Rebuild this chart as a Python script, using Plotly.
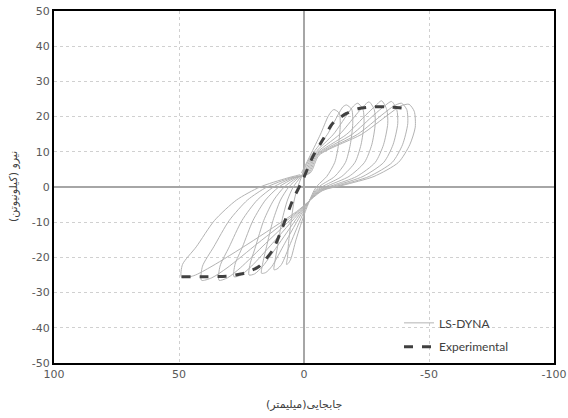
import plotly.graph_objects as go

# ---- data ----
# LS-DYNA hysteresis cycles (displacement mm, force kN)
c1_x = [1.0, -2.5, -6.6, -9.6, -11, -12, -14.1, -14.5, -13.8, -12.3, -9.1, -5.5, -4.0,
        -0.5, 3.2, 5.3, 6.3, 7, 6.6, 6.2, 5.1, 3.9, 2.5, 1.2]
c1_y = [4, 9, 15, 20, 21.5, 22, 21, 17.5, 12, 7, 3, 0.5, -1,
        -7, -15, -20.5, -21.7, -22, -20, -16, -9.5, -3.7, 0, 2.5]
c2_x = [0.5, -3.0, -9.4, -13.6, -15.6, -17, -19.1, -19.5, -18.5, -16.6, -12.3, -6.8, -4.5,
        0.0, 5.4, 9, 10.8, 12, 11.6, 10.6, 8.8, 6.6, 4.3, 1.7]
c2_y = [4, 9, 15, 20.5, 22.8, 23.3, 22, 18, 12, 7, 3, 0.5, -1,
        -7, -16, -22, -23.3, -23.5, -21, -17, -9.5, -3.7, 0, 2.5]
c3_x = [0.0, -3.5, -11.8, -17.2, -19.8, -21.5, -23.6, -24, -22.8, -20.4, -15.1, -8.4, -5.0,
        0.5, 7.7, 12.8, 15.3, 17, 16.6, 15, 12.4, 9.4, 6.1, 2.4]
c3_y = [4, 9, 15, 20.5, 23, 23.8, 22, 18, 12, 7, 3, 0.5, -1,
        -7, -16, -22.5, -24.3, -24.5, -22, -17, -9.5, -3.7, 0, 2.5]
c4_x = [-0.5, -4.0, -14.3, -20.8, -23.9, -26, -28.1, -28.5, -27.1, -24.2, -18, -10, -5.5,
        1.0, 9.9, 16.5, 19.8, 22, 21.6, 19.4, 16.1, 12.1, 7.9, 3.1]
c4_y = [4, 9, 15, 20.5, 23, 24.2, 22, 18, 12, 7, 3, 0.5, -1,
        -7, -16, -22.5, -24.7, -25, -22, -17, -9.5, -3.7, 0, 2.5]
c5_x = [-1.0, -4.5, -17.1, -24.8, -28.5, -31, -33.1, -33.5, -31.8, -28.5, -21.1, -11.7, -6.0,
        1.5, 12.6, 21, 25.2, 28, 27.6, 24.6, 20.4, 15.4, 10.1, 3.9]
c5_y = [4, 9, 15, 20.5, 23, 24.5, 22, 18, 12, 7, 3, 0.5, -1,
        -7, -16, -22.5, -25, -25.5, -22, -17, -9.5, -3.7, 0, 2.5]
c6_x = [-1.5, -5.0, -19.3, -28, -32.2, -35, -37.1, -37.5, -35.6, -31.9, -23.6, -13.1, -6.5,
        2.0, 15.3, 25.5, 30.6, 34, 33.6, 29.9, 24.8, 18.7, 12.2, 4.8]
c6_y = [4, 9, 15, 20.5, 23, 24.3, 22, 18, 12, 7, 3, 0.5, -1,
        -7, -16, -23, -25.8, -26.5, -22.5, -17, -9.5, -3.7, 0, 2.5]
c7_x = [-2.0, -5.5, -21.5, -31.2, -35.9, -39, -41.1, -41.5, -39.4, -35.3, -26.1, -14.5, -7.0,
        2.5, 18.5, 30.8, 36.9, 41, 40.6, 36.1, 29.9, 22.6, 14.8, 5.7]
c7_y = [4, 9, 15, 20.5, 23, 23.8, 22, 18, 12, 7, 3, 0.5, -1,
        -7, -16, -23, -25.8, -26.5, -22.5, -17, -9.5, -3.7, 0, 2.5]
c8_x = [-2.5, -6.0, -23.1, -33.6, -38.6, -42, -44.1, -44.5, -42.3, -37.8, -28, -15.6, -7.5,
        3.0, 22, 36.8, 44.1, 49, 48.6, 43.1, 35.8, 27, 17.6, 6.9, 1.5]
c8_y = [4, 9, 15, 20.5, 23, 23.5, 21.5, 17, 12, 7, 3, 0.5, -1,
        -7, -16, -22.5, -25.2, -25.6, -22, -17, -9.5, -3.7, 0, 2.5, 3.5]

# Experimental backbone
exp_x = [49, 40, 30, 24, 18, 12.5, 8.5, 4.5, 0.5, -3.5, -7.5, -11.5, -17, -22, -28, -35, -40.5]
exp_y = [-25.5, -25.5, -25.3, -24.5, -22.6, -17.9, -11.3, -3.7, 2, 8.6, 13.4, 18.1, 20.9, 22.3, 22.8, 22.7, 22.3]

x_ticks = [100, 50, 0, -50, -100]
y_ticks = [50, 40, 30, 20, 10, 0, -10, -20, -30, -40, -50]
x_title = "جابجایی(میلیمتر)"
y_title = "نیرو (کیلونیوتن)"

ls_x = c1_x + c2_x + c3_x + c4_x + c5_x + c6_x + c7_x + c8_x
ls_y = c1_y + c2_y + c3_y + c4_y + c5_y + c6_y + c7_y + c8_y

fig = go.Figure()
fig.add_trace(go.Scatter(
    x=ls_x, y=ls_y, mode="lines", name="LS-DYNA",
    line=dict(color="#b3b3b3", width=1, shape="spline", smoothing=0.7),
    legend="legend",
))
fig.add_trace(go.Scatter(
    x=exp_x, y=exp_y, mode="lines", name="Experimental",
    line=dict(color="#404040", width=3, dash="dash", shape="spline", smoothing=0.6),
    legend="legend2",
))

tick_font = dict(family="DejaVu Sans", size=11, color="#595959")
fig.update_layout(
    width=568, height=418,
    margin=dict(l=54, r=14, t=11, b=55, autoexpand=False),
    paper_bgcolor="white", plot_bgcolor="white",
    font=dict(family="DejaVu Sans", color="#595959"),
    xaxis=dict(
        range=[100, -100], tickvals=x_ticks, ticktext=[str(v) for v in x_ticks],
        showgrid=True, gridcolor="#d0d0d0", griddash="dot", gridwidth=1,
        zeroline=True, zerolinecolor="#a6a6a6", zerolinewidth=2,
        showline=True, linecolor="black", linewidth=2, mirror=True,
        ticks="", tickfont=tick_font, automargin=False,
    ),
    yaxis=dict(
        range=[-50, 50], tickvals=y_ticks, ticktext=[str(v) for v in y_ticks],
        showgrid=True, gridcolor="#d0d0d0", griddash="dot", gridwidth=1,
        zeroline=True, zerolinecolor="#a6a6a6", zerolinewidth=2,
        showline=True, linecolor="black", linewidth=2, mirror=True,
        ticks="", tickfont=tick_font, automargin=False,
    ),
    annotations=[
        dict(text=x_title, xref="paper", yref="paper", x=0.5, y=-0.119,
             xanchor="center", yanchor="middle", showarrow=False,
             font=dict(family="DejaVu Sans", size=11, color="#404040")),
        dict(text=y_title, xref="paper", yref="paper", x=-0.082, y=0.5,
             xanchor="center", yanchor="middle", showarrow=False, textangle=-90,
             font=dict(family="DejaVu Sans", size=11, color="#404040")),
    ],
    legend=dict(x=0.69, y=0.114, xanchor="left", yanchor="middle",
                bgcolor="rgba(0,0,0,0)", font=dict(family="Lato", size=12, color="#404040")),
    legend2=dict(x=0.69, y=0.046, xanchor="left", yanchor="middle",
                 bgcolor="rgba(0,0,0,0)", font=dict(family="Lato", size=12, color="#404040")),
    showlegend=True,
)

fig.write_html("out.html")
